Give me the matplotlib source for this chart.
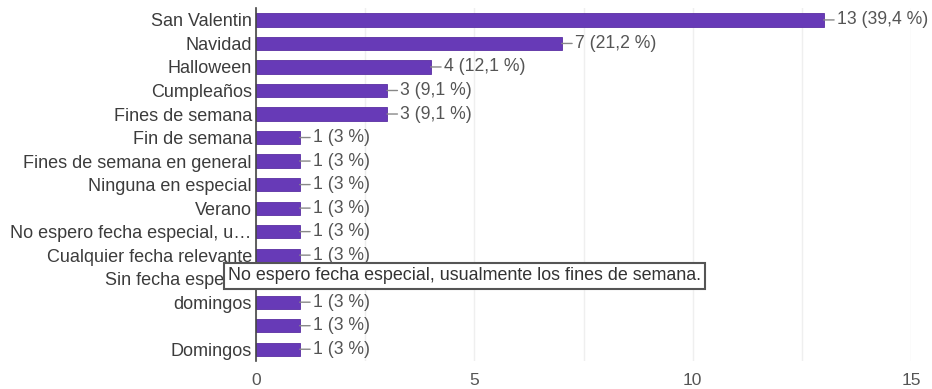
import matplotlib
matplotlib.use("Agg")
import matplotlib.pyplot as plt
from matplotlib.ticker import MultipleLocator

# answers and how many people gave each one
answers = ["San Valentin", "Navidad", "Halloween", "Cumpleaños", "Fines de semana",
           "Fin de semana", "Fines de semana en general", "Ninguna en especial",
           "Verano", "No espero fecha especial, u…", "Cualquier fecha relevante",
           "Sin fecha especial", "domingos", "", "Domingos"]
counts = [13, 7, 4, 3, 3, 1, 1, 1, 1, 1, 1, 1, 1, 1, 1]
total = 33
hover_text = "No espero fecha especial, usualmente los fines de semana."
hover_row = 11

plt.rcParams["font.family"] = ["Liberation Sans", "DejaVu Sans"]

fig = plt.figure(figsize=(9.32, 3.89), dpi=100)
ax = fig.add_axes([0.2747, 0.072, 0.7028, 0.907])

ypos = list(range(len(answers)))
ax.barh(ypos, counts, height=0.56, color="#673ab7", edgecolor="#5a2fa3",
        linewidth=0.6, zorder=3)

# value labels with the little connector line
for y, c in zip(ypos, counts):
    pct = "{:.1f}".format(c / total * 100).replace(".", ",")
    if pct.endswith(",0"):
        pct = pct[:-2]
    ax.annotate("{} ({} %)".format(c, pct), xy=(c, y), xytext=(9.5, 0),
                textcoords="offset points", va="center", ha="left",
                fontsize=12.7, color="#555555",
                arrowprops=dict(arrowstyle="-", color="#888888", lw=1,
                                shrinkA=0, shrinkB=0))

ax.set_yticks(ypos)
ax.set_yticklabels(answers, fontsize=13, color="#3c3c3c")
ax.set_ylim(len(answers) - 0.5, -0.5)
ax.set_xlim(0, 15)
ax.xaxis.set_major_locator(MultipleLocator(5))
ax.xaxis.set_minor_locator(MultipleLocator(2.5))
ax.tick_params(axis="both", which="both", length=0)
ax.tick_params(axis="y", pad=3)
ax.tick_params(axis="x", pad=9, labelsize=12.5, labelcolor="#555555")
ax.grid(axis="x", which="both", color="#efefef", lw=1, zorder=0)

for side in ["top", "right", "bottom"]:
    ax.spines[side].set_visible(False)
ax.spines["left"].set_color("#444444")
ax.spines["left"].set_linewidth(1.2)
ax.spines["left"].set_zorder(4)

# hover box showing the full text of a truncated answer
ax.text(-0.64, hover_row - 0.12, hover_text, fontsize=12.9, color="#333333",
        va="center", ha="left", zorder=10, clip_on=False,
        bbox=dict(boxstyle="square,pad=0.24", facecolor="white",
                  edgecolor="#555555", linewidth=1.5))

fig.savefig("out.png", dpi=100)
